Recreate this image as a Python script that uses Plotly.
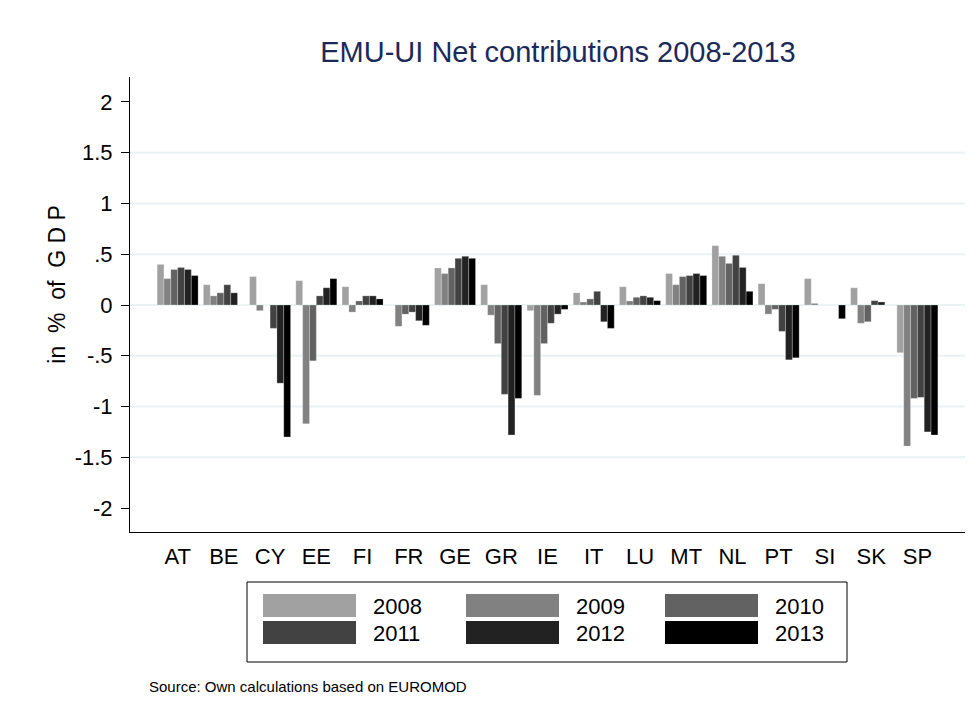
import plotly.graph_objects as go

countries = ["AT", "BE", "CY", "EE", "FI", "FR", "GE", "GR", "IE",
             "IT", "LU", "MT", "NL", "PT", "SI", "SK", "SP"]
years = ["2008", "2009", "2010", "2011", "2012", "2013"]

# net contributions, % of GDP
v2008 = [0.40, 0.20, 0.28, 0.24, 0.18, 0.00, 0.365, 0.20, -0.056, 0.12, 0.18, 0.31, 0.585, 0.21, 0.26, 0.17, -0.47]
v2009 = [0.26, 0.09, -0.056, -1.17, -0.07, -0.21, 0.31, -0.10, -0.89, 0.03, 0.04, 0.20, 0.48, -0.09, 0.016, -0.18, -1.39]
v2010 = [0.35, 0.12, 0.00, -0.55, 0.04, -0.09, 0.365, -0.38, -0.38, 0.06, 0.076, 0.28, 0.41, -0.043, 0.00, -0.165, -0.92]
v2011 = [0.37, 0.20, -0.23, 0.09, 0.09, -0.07, 0.46, -0.88, -0.18, 0.135, 0.09, 0.29, 0.49, -0.26, 0.00, 0.043, -0.91]
v2012 = [0.35, 0.12, -0.77, 0.17, 0.09, -0.155, 0.48, -1.28, -0.09, -0.165, 0.076, 0.31, 0.37, -0.54, 0.00, 0.03, -1.25]
v2013 = [0.29, 0.00, -1.30, 0.26, 0.06, -0.20, 0.46, -0.92, -0.043, -0.23, 0.043, 0.29, 0.135, -0.52, -0.135, 0.00, -1.28]

series = [v2008, v2009, v2010, v2011, v2012, v2013]
colors = ["#a1a1a1", "#818181", "#626262", "#424242", "#222222", "#000000"]

ytickvals = [-2, -1.5, -1, -0.5, 0, 0.5, 1, 1.5, 2]
yticktext = ["-2", "-1.5", "-1", "-.5", "0", ".5", "1", "1.5", "2"]

FONT = "Arial, Liberation Sans, sans-serif"

# page has an 8px body margin, so the figure is a bit smaller and shifted
OFF = 8
PAGE_W, PAGE_H = 978, 718
W, H = PAGE_W - OFF, PAGE_H - OFF
# plot area in page pixels
L, R, T, B = 130, 965, 77, 532


def px(x):
    return (x - L) / (R - L)


def py(y):
    return (B - y) / (B - T)


fig = go.Figure()
for yr, vals, c in zip(years, series, colors):
    fig.add_trace(go.Bar(x=countries, y=vals, name=yr, marker_color=c,
                         marker_line=dict(color="rgba(255,255,255,0.5)", width=0.5)))

fig.update_layout(
    width=W, height=H,
    barmode="group", bargap=0.113, bargroupgap=0,
    showlegend=False,
    plot_bgcolor="white", paper_bgcolor="white",
    margin=dict(l=L - OFF, r=PAGE_W - R, t=T - OFF, b=PAGE_H - B),
    font=dict(family=FONT, color="black"),
    title=dict(text="EMU-UI Net contributions 2008-2013",
               font=dict(size=29, color="#1c2a5a", family=FONT),
               x=(558 - OFF) / W, xanchor="center", xref="container",
               y=1 - (52 - OFF) / H, yanchor="middle", yref="container"),
)

fig.update_xaxes(range=[-1.03, 17.03], showline=True, linecolor="black", linewidth=1,
                 showgrid=False, ticks="", tickfont=dict(size=22),
                 ticklabelstandoff=5, zeroline=False)
fig.update_yaxes(range=[-2.236, 2.246], tickvals=ytickvals, ticktext=yticktext,
                 showline=True, linecolor="black", linewidth=1,
                 ticks="outside", ticklen=8, tickcolor="black",
                 ticklabelstandoff=4,
                 tickfont=dict(size=22), showgrid=False, zeroline=False)

# gridlines (Stata style: none at the outer ticks)
for g in [-1.5, -1, -0.5, 0, 0.5, 1, 1.5]:
    fig.add_shape(type="line", xref="paper", yref="y", x0=0, x1=1, y0=g, y1=g,
                  line=dict(color="#eaf2f3", width=2), layer="below")

nb = "\u00a0"
ytitle = "in" + nb * 2 + "%" + nb * 2 + "of" + nb * 2 + "G D P"
fig.add_annotation(text=ytitle, textangle=-90, xref="paper", yref="y",
                   x=0, y=0.2, xshift=42 - L, showarrow=False,
                   font=dict(size=23, family=FONT))

# legend box drawn by hand to get the wide Stata swatches
fig.add_shape(type="rect", xref="paper", yref="paper",
              x0=px(247), x1=px(847), y0=py(662), y1=py(582),
              line=dict(color="black", width=1), fillcolor="white")
col_x = [263, 466, 665]
row_y = [594, 621]
for i, (yr, c) in enumerate(zip(years, colors)):
    cx = col_x[i % 3]
    ry = row_y[i // 3]
    fig.add_shape(type="rect", xref="paper", yref="paper",
                  x0=px(cx), x1=px(cx + 93), y0=py(ry + 23), y1=py(ry),
                  line=dict(width=0), fillcolor=c)
    fig.add_annotation(text=yr, xref="paper", yref="paper",
                       x=px(cx + 108), y=py(ry + 12), xanchor="left", yanchor="middle",
                       showarrow=False, font=dict(size=22, family=FONT))

fig.add_annotation(text="Source: Own calculations based on EUROMOD",
                   xref="paper", yref="paper", x=px(147), y=py(686),
                   xanchor="left", yanchor="middle", showarrow=False,
                   font=dict(size=15, family=FONT))

fig.write_html("out.html")
